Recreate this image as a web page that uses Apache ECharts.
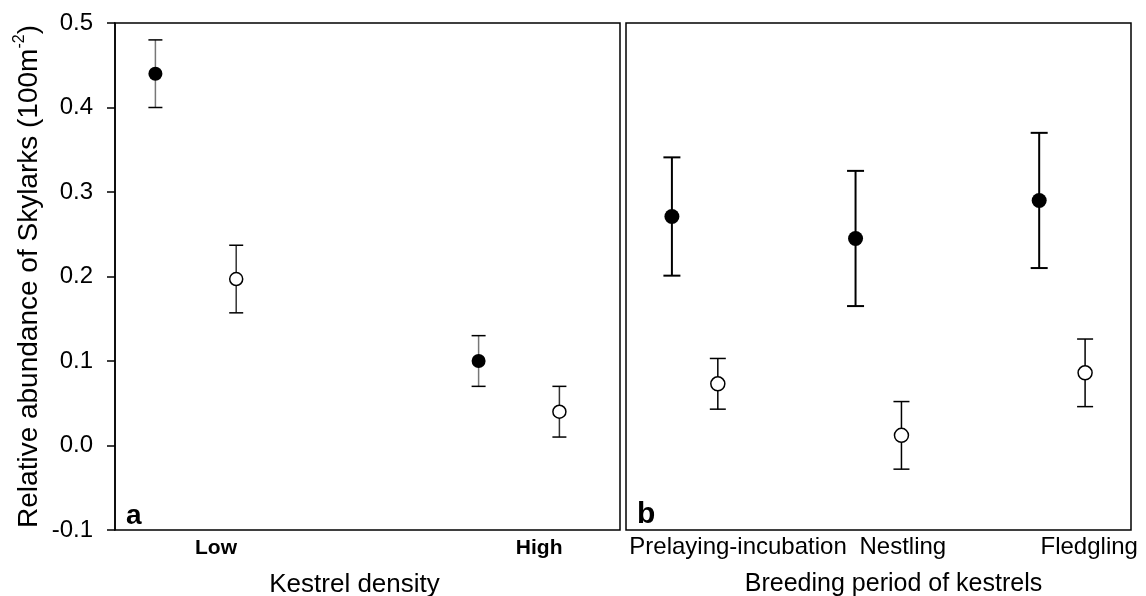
<!DOCTYPE html>
<html>
<head>
<meta charset="utf-8">
<script src="https://cdn.jsdelivr.net/npm/echarts@6.0.0/dist/echarts.min.js"></script>
<style>
html, body { margin: 0; padding: 0; background: #fff; }
#chart { width: 1146px; height: 596px; }
</style>
</head>
<body>
<div id="chart"></div>
<script>
// panel a: kestrel density
const densityCats = ['Low', 'High']
const densityX = [1, 5]
const densityLabelX = [1.25, 5.25]
const densityFilledMean = [0.44, 0.10]
const densityFilledErr = [0.04, 0.03]
const densityOpenMean = [0.197, 0.04]
const densityOpenErr = [0.04, 0.03]

// panel b: breeding period of kestrels
const periodCats = ['Prelaying-incubation', 'Nestling', 'Fledgling']
const periodX = [1.5, 5.5, 9.5]
const periodLabelX = [2.44, 6.03, 10.09]
const periodFilledMean = [0.271, 0.245, 0.29]
const periodFilledErr = [0.07, 0.08, 0.08]
const periodOpenMean = [0.073, 0.012, 0.086]
const periodOpenErr = [0.03, 0.04, 0.04]

const FONT = "'Liberation Sans', Arial, sans-serif"

function points (xs, means, shift) {
  return xs.map((x, i) => [x + shift, means[i]])
}
function bars (xs, means, errs, shift) {
  return xs.map((x, i) => [x + shift, means[i] - errs[i], means[i] + errs[i]])
}

function errorBar (stem, cap, lw, capW) {
  return function (params, api) {
    const x = api.value(0)
    const lo = api.coord([x, api.value(1)])
    const hi = api.coord([x, api.value(2)])
    return {
      type: 'group',
      children: [
        { type: 'line', shape: { x1: lo[0], y1: lo[1], x2: hi[0], y2: hi[1] }, style: { stroke: stem, lineWidth: lw } },
        { type: 'line', shape: { x1: lo[0] - capW / 2, y1: lo[1], x2: lo[0] + capW / 2, y2: lo[1] }, style: { stroke: cap, lineWidth: lw } },
        { type: 'line', shape: { x1: hi[0] - capW / 2, y1: hi[1], x2: hi[0] + capW / 2, y2: hi[1] }, style: { stroke: cap, lineWidth: lw } }
      ]
    }
  }
}

function labelFor (positions, names) {
  return function (value) {
    for (let i = 0; i < positions.length; i++) {
      if (Math.abs(positions[i] - value) < 1e-6) return names[i]
    }
    return ''
  }
}

const yCommon = {
  type: 'value',
  min: -0.1,
  max: 0.5,
  interval: 0.1,
  splitLine: { show: false }
}

let option = {
  animation: false,
  textStyle: { fontFamily: FONT },
  title: [
    { text: 'a', left: 121, top: 497, textStyle: { fontSize: 28, fontWeight: 'bold', color: '#000', fontFamily: FONT } },
    { text: 'b', left: 632, top: 495, textStyle: { fontSize: 30, fontWeight: 'bold', color: '#000', fontFamily: FONT } }
  ],
  grid: [
    { left: 115, top: 23, width: 505, height: 507, show: true, borderColor: '#000', borderWidth: 1.5, outerBoundsMode: 'none', containLabel: false },
    { left: 626, top: 23, width: 505, height: 507, show: true, borderColor: '#000', borderWidth: 1.5, outerBoundsMode: 'none', containLabel: false }
  ],
  xAxis: [
    {
      gridIndex: 0,
      type: 'value',
      min: 0,
      max: 6.25,
      splitLine: { show: false },
      axisLine: { show: false },
      axisTick: { show: false },
      axisLabel: {
        customValues: densityLabelX,
        formatter: labelFor(densityLabelX, densityCats),
        fontSize: 21,
        fontWeight: 'bold',
        color: '#000',
        margin: 8
      },
      name: 'Kestrel density',
      nameLocation: 'middle',
      nameGap: 42,
      nameTextStyle: { fontSize: 26, color: '#000', padding: [0, 26, 0, 0] }
    },
    {
      gridIndex: 1,
      type: 'value',
      min: 0,
      max: 11,
      splitLine: { show: false },
      axisLine: { show: false },
      axisTick: { show: false },
      axisLabel: {
        customValues: periodLabelX,
        formatter: labelFor(periodLabelX, periodCats),
        fontSize: 24,
        color: '#000',
        margin: 5
      },
      name: 'Breeding period of kestrels',
      nameLocation: 'middle',
      nameGap: 42,
      nameTextStyle: { fontSize: 25, color: '#000', padding: [0, 0, 0, 30] }
    }
  ],
  yAxis: [
    Object.assign({}, yCommon, {
      gridIndex: 0,
      axisLine: { show: true, lineStyle: { color: '#000', width: 1.5 } },
      axisTick: { show: true, length: 8, lineStyle: { color: '#000', width: 1.5 } },
      axisLabel: {
        fontSize: 24,
        color: '#000',
        margin: 22,
        formatter: v => v.toFixed(1)
      },
      name: 'Relative abundance of Skylarks (100m{sup|-2})',
      nameLocation: 'middle',
      nameRotate: 90,
      nameGap: 69,
      nameTextStyle: {
        fontSize: 28,
        color: '#000',
        rich: {
          sup: { fontSize: 16, color: '#000', padding: [0, 0, 18, 0] }
        }
      }
    }),
    Object.assign({}, yCommon, {
      gridIndex: 1,
      axisLine: { show: false },
      axisTick: { show: false },
      axisLabel: { show: false }
    })
  ],
  series: [
    {
      type: 'custom',
      xAxisIndex: 0,
      yAxisIndex: 0,
      renderItem: errorBar('#777', '#000', 1.5, 14),
      encode: { x: 0, y: [1, 2] },
      data: bars(densityX, densityFilledMean, densityFilledErr, -0.5),
      z: 2
    },
    {
      type: 'custom',
      xAxisIndex: 0,
      yAxisIndex: 0,
      renderItem: errorBar('#333', '#000', 1.5, 14),
      encode: { x: 0, y: [1, 2] },
      data: bars(densityX, densityOpenMean, densityOpenErr, 0.5),
      z: 2
    },
    {
      type: 'custom',
      xAxisIndex: 1,
      yAxisIndex: 1,
      renderItem: errorBar('#000', '#000', 2, 17),
      encode: { x: 0, y: [1, 2] },
      data: bars(periodX, periodFilledMean, periodFilledErr, -0.5),
      z: 2
    },
    {
      type: 'custom',
      xAxisIndex: 1,
      yAxisIndex: 1,
      renderItem: errorBar('#000', '#000', 1.5, 16),
      encode: { x: 0, y: [1, 2] },
      data: bars(periodX, periodOpenMean, periodOpenErr, 0.5),
      z: 2
    },
    {
      type: 'scatter',
      xAxisIndex: 0,
      yAxisIndex: 0,
      symbol: 'circle',
      symbolSize: 14,
      itemStyle: { color: '#000', opacity: 1 },
      data: points(densityX, densityFilledMean, -0.5),
      z: 5
    },
    {
      type: 'scatter',
      xAxisIndex: 0,
      yAxisIndex: 0,
      symbol: 'circle',
      symbolSize: 13,
      itemStyle: { color: '#fff', borderColor: '#000', borderWidth: 1.5, opacity: 1 },
      data: points(densityX, densityOpenMean, 0.5),
      z: 5
    },
    {
      type: 'scatter',
      xAxisIndex: 1,
      yAxisIndex: 1,
      symbol: 'circle',
      symbolSize: 15,
      itemStyle: { color: '#000', opacity: 1 },
      data: points(periodX, periodFilledMean, -0.5),
      z: 5
    },
    {
      type: 'scatter',
      xAxisIndex: 1,
      yAxisIndex: 1,
      symbol: 'circle',
      symbolSize: 14,
      itemStyle: { color: '#fff', borderColor: '#000', borderWidth: 1.5, opacity: 1 },
      data: points(periodX, periodOpenMean, 0.5),
      z: 5
    }
  ]
}

const chart = echarts.init(document.getElementById('chart'))
chart.setOption(option)
</script>
</body>
</html>
